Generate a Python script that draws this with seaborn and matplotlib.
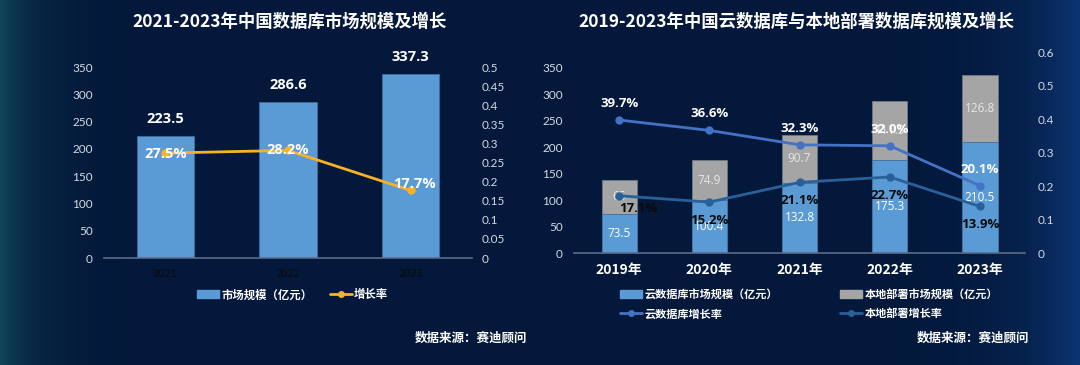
import numpy as np
import pandas as pd
import seaborn as sns
import matplotlib.pyplot as plt
from matplotlib.patches import Patch
from matplotlib.lines import Line2D

# left chart data
years_l = ["2021", "2022", "2023"]
market = [223.5, 286.6, 337.3]
market_growth = [0.275, 0.282, 0.177]

# right chart data
years_r = ["2019年", "2020年", "2021年", "2022年", "2023年"]
cloud = [73.5, 100.4, 132.8, 175.3, 210.5]
local = [65, 74.9, 90.7, 111.3, 126.8]
cloud_growth = [0.397, 0.366, 0.323, 0.320, 0.201]
local_growth = [0.171, 0.152, 0.211, 0.227, 0.139]

sns.set_theme(style="white")
plt.rcParams["font.family"] = ["Noto Sans CJK SC", "DejaVu Sans"]

BG = "#03183A"
WHITE = "#FFFFFF"
TICK = "#D3DAE4"
C_BAR = "#5B9BD5"
C_GRAY = "#A5A5A5"
C_ORANGE = "#F8B224"
C_CLOUD = "#4472C4"
C_LOCAL = "#2A6099"

fig = plt.figure(figsize=(10.8, 3.65), dpi=100)
fig.patch.set_facecolor(BG)

# subtle edge glow in the background
bg = fig.add_axes([0, 0, 1, 1], zorder=-10)
xx = np.linspace(0, 1, 400)
glow_l = np.exp(-xx / 0.03)
glow_r = np.exp(-(1 - xx) / 0.05)
img = np.zeros((2, 400, 3))
base = np.array([3, 24, 58]) / 255
teal = np.array([20, 80, 95]) / 255
blue = np.array([15, 60, 130]) / 255
for i in range(2):
    img[i] = base + np.outer(glow_l, teal - base) * 0.8 + np.outer(glow_r, blue - base) * 0.8
bg.imshow(img, aspect="auto", extent=[0, 1, 0, 1])
bg.axis("off")


def style_axes(ax, ax2):
    for a in (ax, ax2):
        a.set_facecolor("none")
        for s in a.spines.values():
            s.set_visible(False)
        a.grid(False)
        a.tick_params(length=0)
    ax.spines["bottom"].set_visible(True)
    ax.spines["bottom"].set_color("#5A6C88")
    ax.spines["bottom"].set_linewidth(1.2)
    ax.set_xlabel("")
    ax.set_ylabel("")
    ax2.set_ylabel("")
    for lab in ax.get_yticklabels() + ax2.get_yticklabels():
        lab.set_family("Lato")
        lab.set_color(TICK)
        lab.set_fontsize(8.5)


# ---------------- left chart ----------------
axL = fig.add_axes([0.0963, 0.293, 0.3407, 0.523])
df_l = pd.DataFrame({"year": years_l, "market": market})
sns.barplot(data=df_l, x="year", y="market", ax=axL, color=C_BAR,
            saturation=1, width=0.47, edgecolor="#3F6E9C", linewidth=0.6)
axL.set_ylim(0, 350)
axL.set_yticks(range(0, 351, 50))
axL.set_xlim(-0.5, 2.5)
axL2 = axL.twinx()
sns.lineplot(x=np.arange(len(years_l)), y=market_growth, ax=axL2, color=C_ORANGE,
             marker="o", markersize=6, markeredgewidth=0, linewidth=2)
axL2.set_ylim(0, 0.5)
axL2.set_yticks(np.arange(0, 0.51, 0.05))
axL2.set_yticklabels(["0", "0.05", "0.1", "0.15", "0.2", "0.25", "0.3",
                      "0.35", "0.4", "0.45", "0.5"])
axL.set_yticklabels([str(v) for v in range(0, 351, 50)])
style_axes(axL, axL2)
axL.tick_params(axis="x", colors="#0B0B0B", labelsize=8, pad=8)
axL.tick_params(axis="y", pad=8)
axL2.tick_params(axis="y", pad=7)

for i, v in enumerate(market):
    axL.annotate(f"{v}", (i, v), xytext=(0, 12), textcoords="offset points",
                 ha="center", va="center", color=WHITE, fontsize=10.5,
                 fontweight="bold", family="Open Sans")
offs_l = [(0, -1), (0, 0), (3, 5)]
for i, g in enumerate(market_growth):
    axL2.annotate(f"{g*100:.1f}%", (i, g), xytext=offs_l[i], textcoords="offset points",
                  ha="center", va="center", color=WHITE, fontsize=10.5,
                  fontweight="bold", family="Open Sans")

fig.text(0.2685, 0.94, "2021-2023年中国数据库市场规模及增长", ha="center", va="center",
         color=WHITE, fontsize=12.5, fontweight="bold")

legL = fig.legend(handles=[Patch(color=C_BAR, label="市场规模（亿元）"),
                           Line2D([], [], color=C_ORANGE, marker="o", markersize=4,
                                  linewidth=2, label="增长率")],
                  loc="center", bbox_to_anchor=(0.271, 0.192), ncol=2, frameon=False,
                  fontsize=8.2, handlelength=1.9, handleheight=0.7, columnspacing=1.6,
                  handletextpad=0.2)
for t in legL.get_texts():
    t.set_color(WHITE)
    t.set_fontweight("bold")

fig.text(0.488, 0.074, "数据来源：赛迪顾问", ha="right", va="center", color=WHITE,
         fontsize=9, fontweight="bold")

# ---------------- right chart ----------------
axR = fig.add_axes([0.5315, 0.3068, 0.4176, 0.5507])
total = [c + l for c, l in zip(cloud, local)]
df_r = pd.DataFrame({"year": years_r, "cloud": cloud, "total": total})
sns.barplot(data=df_r, x="year", y="total", ax=axR, color=C_GRAY, saturation=1,
            width=0.39, edgecolor="#6F7A88", linewidth=0.6)
sns.barplot(data=df_r, x="year", y="cloud", ax=axR, color=C_BAR, saturation=1,
            width=0.39, edgecolor="#3F6E9C", linewidth=0.6)
axR.set_ylim(0, 380)
axR.set_yticks(range(0, 351, 50))
axR.set_yticklabels([str(v) for v in range(0, 351, 50)])
axR.set_xlim(-0.5, 4.5)
axR2 = axR.twinx()
xr = np.arange(len(years_r))
sns.lineplot(x=xr, y=cloud_growth, ax=axR2, color=C_CLOUD, marker="o",
             markersize=6, markeredgewidth=0, linewidth=2)
sns.lineplot(x=xr, y=local_growth, ax=axR2, color=C_LOCAL, marker="o",
             markersize=6, markeredgewidth=0, linewidth=2)
axR2.set_ylim(0, 0.6)
axR2.set_yticks(np.arange(0, 0.61, 0.1))
axR2.set_yticklabels(["0", "0.1", "0.2", "0.3", "0.4", "0.5", "0.6"])
style_axes(axR, axR2)
axR.tick_params(axis="x", colors=WHITE, labelsize=10, pad=7)
for lab in axR.get_xticklabels():
    lab.set_fontweight("bold")
axR.tick_params(axis="y", pad=8)
axR2.tick_params(axis="y", pad=9)

for i, (c, l) in enumerate(zip(cloud, local)):
    axR.text(i, c / 2, f"{c}", ha="center", va="center", color=WHITE,
             fontsize=8.5, family="Open Sans")
    axR.text(i, c + l / 2, f"{l:g}", ha="center", va="center", color="#E6E6E6",
             fontsize=8.5, family="Open Sans")
for i, g in enumerate(cloud_growth):
    axR2.annotate(f"{g*100:.1f}%", (i, g), xytext=(0, 12), textcoords="offset points",
                  ha="center", va="center", color=WHITE, fontsize=9.5,
                  fontweight="bold", family="Open Sans")
offs_r = [(14, -9), (0, -13), (0, -13), (0, -13), (0, -13)]
for i, g in enumerate(local_growth):
    axR2.annotate(f"{g*100:.1f}%", (i, g), xytext=offs_r[i], textcoords="offset points",
                  ha="center", va="center", color="#0A0A0A", fontsize=9.5,
                  fontweight="bold", family="Open Sans")

fig.text(0.737, 0.94, "2019-2023年中国云数据库与本地部署数据库规模及增长", ha="center",
         va="center", color=WHITE, fontsize=12.5, fontweight="bold")

legR = fig.legend(handles=[Patch(color=C_BAR, label="云数据库市场规模（亿元）"),
                           Line2D([], [], color=C_CLOUD, marker="o", markersize=4,
                                  linewidth=2, label="云数据库增长率"),
                           Patch(color=C_GRAY, label="本地部署市场规模（亿元）"),
                           Line2D([], [], color=C_LOCAL, marker="o", markersize=4,
                                  linewidth=2, label="本地部署增长率")],
                  loc="center", bbox_to_anchor=(0.749, 0.167), ncol=2, frameon=False,
                  fontsize=8, handlelength=2.0, handleheight=0.7, columnspacing=5.6,
                  handletextpad=0.2, labelspacing=0.6)
for t in legR.get_texts():
    t.set_color(WHITE)
    t.set_fontweight("bold")

fig.text(0.953, 0.074, "数据来源：赛迪顾问", ha="right", va="center", color=WHITE,
         fontsize=9, fontweight="bold")

fig.savefig("out.png", dpi=100, facecolor=fig.get_facecolor())
